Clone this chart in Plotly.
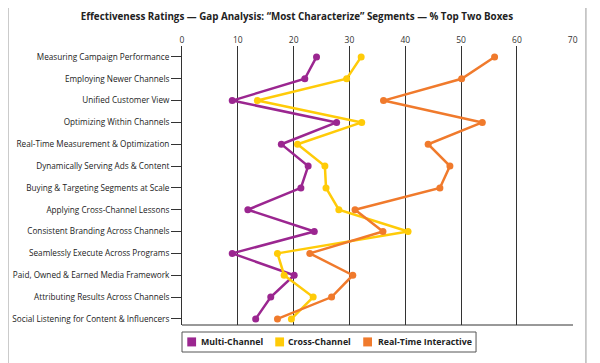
import plotly.graph_objects as go

categories = [
    "Measuring Campaign Performance",
    "Employing Newer Channels",
    "Unified Customer View",
    "Optimizing Within Channels",
    "Real-Time Measurement & Optimization",
    "Dynamically Serving Ads & Content",
    "Buying & Targeting Segments at Scale",
    "Applying Cross-Channel Lessons",
    "Consistent Branding Across Channels",
    "Seamlessly Execute Across Programs",
    "Paid, Owned & Earned Media Framework",
    "Attributing Results Across Channels",
    "Social Listening for Content & Influencers",
]
multi_channel = [24.1, 22.0, 9.0, 27.7, 17.8, 22.6, 21.3, 11.8, 23.7, 9.0, 20.1, 15.9, 13.2]
cross_channel = [32.1, 29.5, 13.5, 32.2, 20.7, 25.6, 25.8, 28.1, 40.5, 17.1, 18.3, 23.5, 19.6]
real_time = [56.0, 50.1, 36.1, 53.8, 44.1, 48.0, 46.2, 31.0, 36.0, 22.9, 30.6, 26.8, 17.1]
x_ticks = [0, 10, 20, 30, 40, 50, 60, 70]

series_names = ["Multi-Channel", "Cross-Channel", "Real-Time Interactive"]
series_values = [multi_channel, cross_channel, real_time]
series_colors = ["#9B2690", "#FFCB08", "#F07A2C"]

# legend swatch / label positions (paper coords, left edges)
legend_swatch_x = [0.0135, 0.2385, 0.4635]
legend_text_x = [0.0443, 0.2667, 0.4962]

fig = go.Figure()
for name, vals, color in zip(series_names, series_values, series_colors):
    fig.add_trace(go.Scatter(
        x=vals, y=categories, mode="lines+markers", name=name,
        line=dict(color=color, width=2.5),
        marker=dict(color=color, size=7),
        showlegend=False, cliponaxis=False,
    ))

shapes = [
    dict(type="line", xref="paper", yref="paper", x0=0, x1=1, y0=0, y1=0,
         line=dict(color="#333333", width=1)),
    dict(type="rect", xref="paper", yref="paper", x0=-0.445, x1=1.033,
         y0=-0.4, y1=1.154, line=dict(color="#BBBBBB", width=1.5), layer="below"),
    dict(type="rect", xref="paper", yref="paper", x0=0, x1=0.752,
         y0=-0.0968, y1=-0.0251, line=dict(color="#555555", width=1)),
]
annotations = []
for name, color, sx, tx in zip(series_names, series_colors, legend_swatch_x, legend_text_x):
    shapes.append(dict(type="rect", xref="paper", yref="paper",
                       x0=sx, x1=sx + 0.0225, y0=-0.0768, y1=-0.0445,
                       fillcolor=color, line=dict(width=0)))
    annotations.append(dict(xref="paper", yref="paper", x=tx, y=-0.0609,
                            xanchor="left", yanchor="middle", showarrow=False,
                            text="<b>" + name + "</b>",
                            font=dict(size=8.8, color="#222222", family="Open Sans")))

fig.update_layout(
    width=592, height=355,
    margin=dict(l=174, r=27, t=38, b=38, autoexpand=False),
    paper_bgcolor="white", plot_bgcolor="white",
    showlegend=False,
    font=dict(family="Open Sans", color="#333333", size=8),
    title=dict(
        text="<b>Effectiveness Ratings — Gap Analysis: “Most Characterize” Segments — % Top Two Boxes</b>",
        xref="container", yref="container", x=0.488, xanchor="center",
        y=0.975, yanchor="middle",
        font=dict(size=9.8, color="#222222"),
    ),
    xaxis=dict(
        side="top", range=[0, 70.05], tickvals=x_ticks,
        showgrid=True, gridcolor="#333333", gridwidth=1,
        zeroline=False, showline=False, ticks="", automargin=False,
        tickfont=dict(size=8.5, color="#333333"),
    ),
    yaxis=dict(
        categoryorder="array", categoryarray=categories,
        range=[12.28, -0.5], showgrid=False, zeroline=False,
        showline=True, linecolor="#333333", linewidth=1,
        ticks="outside", ticklen=10, tickcolor="#333333", tickwidth=1,
        automargin=False,
        tickfont=dict(size=8.2, color="#222222"),
    ),
    shapes=shapes,
    annotations=annotations,
)

fig.write_html("out.html")
